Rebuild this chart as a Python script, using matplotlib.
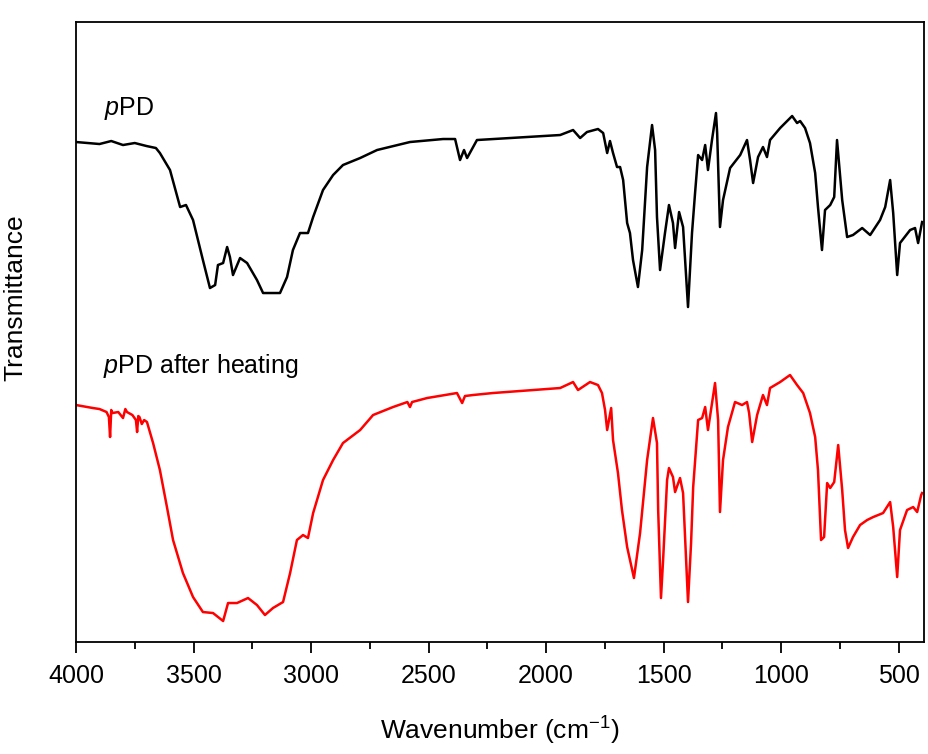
import matplotlib
matplotlib.use("Agg")
import matplotlib.pyplot as plt
from matplotlib.ticker import MultipleLocator

plt.rcParams['font.family'] = ['Liberation Sans', 'DejaVu Sans']
plt.rcParams['mathtext.fontset'] = 'custom'
plt.rcParams['mathtext.rm'] = 'Liberation Sans'
plt.rcParams['mathtext.it'] = 'Liberation Sans:italic'

# FTIR spectra, transmittance in arbitrary units
wn_ppd = [4000, 3950, 3900, 3850, 3800, 3750, 3700, 3660, 3643, 3600, 3557, 3532, 3502,
          3460, 3430, 3408, 3396, 3374, 3357, 3345, 3332, 3302, 3272, 3230, 3204, 3132,
          3102, 3077, 3047, 3013, 2991, 2949, 2906, 2864, 2791, 2719, 2579, 2438, 2387,
          2366, 2349, 2336, 2294, 1940, 1885, 1855, 1826, 1779, 1757, 1740, 1728, 1715,
          1698, 1685, 1672, 1655, 1643, 1630, 1609, 1591, 1570, 1549, 1536, 1528, 1515,
          1494, 1477, 1460, 1451, 1434, 1417, 1396, 1379, 1366, 1353, 1336, 1323, 1311,
          1294, 1277, 1272, 1260, 1247, 1217, 1174, 1145, 1132, 1119, 1098, 1077, 1060,
          1047, 1004, 953, 932, 919, 898, 877, 855, 843, 826, 813, 791, 774, 762, 740,
          719, 694, 655, 621, 579, 557, 536, 523, 506, 494, 451, 430, 417, 400]
t_ppd = [500, 499, 498, 501, 497, 499, 496, 494, 489, 472, 435, 437, 422,
         382, 354, 357, 377, 379, 395, 385, 367, 384, 379, 362, 349, 349,
         365, 392, 409, 409, 425, 452, 467, 477, 484, 492, 500, 503, 503,
         482, 492, 484, 502, 507, 512, 504, 510, 513, 509, 489, 501, 489,
         475, 475, 462, 419, 409, 382, 355, 392, 475, 517, 492, 425, 372,
         409, 437, 419, 394, 430, 415, 335, 409, 449, 487, 482, 497, 472,
         502, 529, 509, 415, 442, 474, 487, 502, 482, 459, 485, 495, 485,
         502, 514, 526, 519, 521, 514, 499, 469, 435, 392, 432, 437, 445, 502, 442,
         405, 407, 414, 407, 422, 435, 462, 429, 367, 399, 412, 414, 399, 420]

wn_heat = [4000, 3928, 3900, 3870, 3860, 3855, 3850, 3845, 3820, 3800, 3790, 3783,
           3760, 3745, 3740, 3735, 3730, 3720, 3710, 3698,
           3672, 3643, 3613, 3587, 3545, 3502, 3460, 3417, 3374, 3353, 3315, 3268, 3230,
           3196, 3162, 3119, 3089, 3060, 3034, 3013, 2991, 2949, 2906, 2864, 2791, 2736,
           2651, 2590, 2579, 2570, 2506, 2379, 2357, 2345, 2311, 2226, 1940, 1885, 1864,
           1813, 1779, 1762, 1749, 1740, 1723, 1715, 1694, 1677, 1655, 1643, 1626, 1600,
           1570, 1545, 1528, 1523, 1511, 1502, 1485, 1477, 1460, 1451, 1430, 1417, 1396,
           1383, 1374, 1353, 1336, 1323, 1311, 1294, 1281, 1268, 1260, 1247, 1226, 1196,
           1166, 1145, 1136, 1123, 1102, 1077, 1060, 1047, 1004, 962, 932, 906, 877, 855,
           843, 830, 817, 804, 791, 774, 757, 740, 728, 715, 694, 664, 634, 608, 566, 536,
           523, 506, 494, 464, 438, 421, 404, 400]
t_heat = [237, 234, 233, 230, 225, 205, 232, 229, 230, 224, 233, 230,
          227, 222, 210, 226, 225, 218, 222, 220,
          199, 172, 135, 102, 69, 45, 30, 29, 21, 39, 39, 44, 37,
          27, 34, 40, 69, 102, 107, 104, 129, 162, 182, 199, 212, 227,
          235, 240, 235, 240, 244, 249, 239, 246, 247, 249, 254, 260, 252,
          260, 257, 249, 232, 212, 234, 202, 169, 132, 95, 82, 64, 109,
          182, 224, 199, 132, 44, 82, 162, 174, 165, 150, 164, 149, 40,
          99, 155, 222, 224, 235, 212, 239, 259, 222, 130, 182, 215, 240,
          237, 240, 229, 200, 227, 247, 237, 254, 260, 267, 257, 249, 229, 205,
          172, 102, 105, 159, 154, 160, 197, 152, 112, 94, 105, 117, 122, 125, 129, 140,
          115, 65, 112, 132, 135, 130, 147, 149]

fig = plt.figure(figsize=(9.29, 7.54), dpi=100)
ax = fig.add_axes([0.0818, 0.1485, 0.9128, 0.8223])

ax.plot(wn_ppd, t_ppd, color='black', lw=1.8)
ax.plot(wn_heat, t_heat, color='red', lw=1.8)

ax.set_xlim(4000, 392)
ax.set_ylim(0, 620)
ax.xaxis.set_major_locator(MultipleLocator(500))
ax.xaxis.set_minor_locator(MultipleLocator(250))
ax.set_yticks([])
ax.tick_params(axis='x', which='major', direction='out', length=8, width=1.3,
               labelsize=18, pad=8)
ax.tick_params(axis='x', which='minor', direction='out', length=5, width=1.3)
for s in ax.spines.values():
    s.set_linewidth(1.3)

ax.text(3880, 520, '$p$PD', fontsize=18, ha='left', va='bottom')
ax.text(3885, 262, '$p$PD after heating', fontsize=18, ha='left', va='bottom')

ax.set_xlabel('Wavenumber (cm$^{-1}$)', fontsize=19)
ax.xaxis.set_label_coords(0.5, -0.118)
ax.set_ylabel('Transmittance', fontsize=19)
ax.yaxis.set_label_coords(-0.057, 0.555)

fig.savefig('out.png', dpi=100)
